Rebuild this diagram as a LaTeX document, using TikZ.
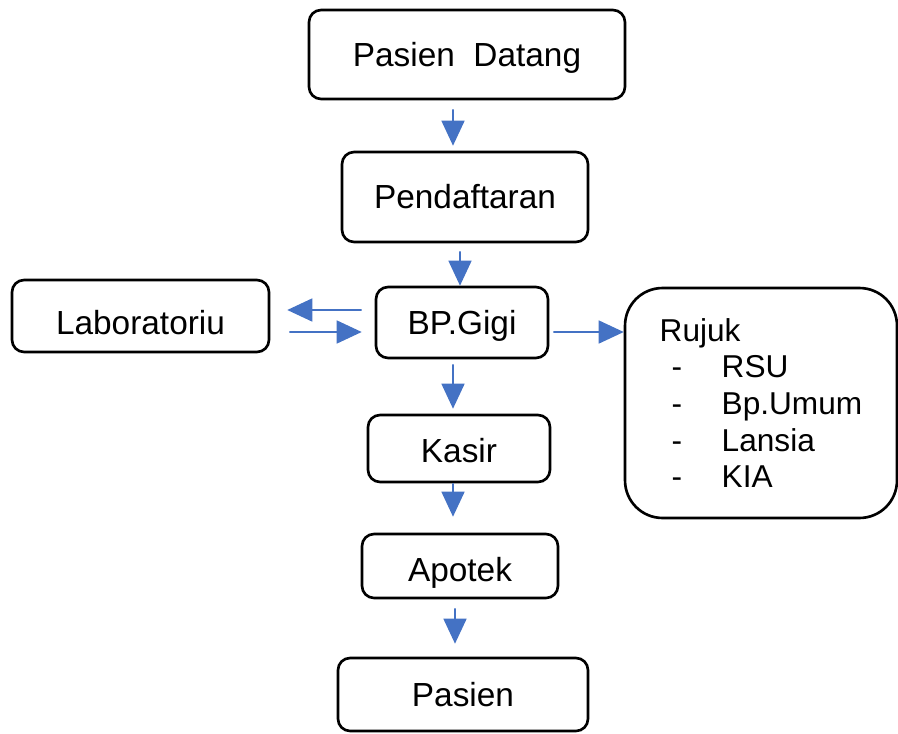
\documentclass[tikz,border=0pt]{standalone}
\usepackage{fontspec}
\setmainfont{Liberation Sans}
\usetikzlibrary{arrows.meta}
\definecolor{arrowblue}{RGB}{68,114,196}
\begin{document}
\begin{tikzpicture}[x=0.02cm, y=-0.02cm,
    box/.style={draw, line width=1.5pt, rounded corners=0.24cm, inner sep=0pt,
        font=\fontsize{19}{23}\selectfont, text height=13.6pt, text depth=0pt},
    rujukbox/.style={draw, line width=1.5pt, rounded corners=0.75cm, inner sep=0pt,
        font=\fontsize{18}{20.8}\selectfont, align=left,
        minimum width=5.44cm, minimum height=4.6cm},
    arr/.style={arrowblue, line width=0.9pt, -{Triangle[length=0.5cm, width=0.46cm]}}]
    \useasboundingbox (0,0) rectangle (898,733);

    % Boxes
    \node[box, minimum width=6.32cm, minimum height=1.78cm] (datang) at (467,54.5) {Pasien\ \ Datang};
    \node[box, minimum width=4.92cm, minimum height=1.80cm] (daftar) at (465,197) {Pendaftaran};
    \node[box, minimum width=3.44cm, minimum height=1.42cm] (gigi) at (462,322.5) {BP.Gigi};
    \node[box, minimum width=5.14cm, minimum height=1.44cm] (lab) at (140.5,316) {\raisebox{-0.14cm}{Laboratoriu}};
    \node[box, minimum width=3.64cm, minimum height=1.34cm] (kasir) at (459,448.5) {\raisebox{-0.05cm}{Kasir}};
    \node[box, minimum width=3.92cm, minimum height=1.28cm] (apotek) at (460,566) {\raisebox{-0.07cm}{Apotek}};
    \node[box, minimum width=5.00cm, minimum height=1.46cm] (pasien) at (463,694.5) {Pasien};
    \node[rujukbox] (rujuk) at (761,403) {Rujuk\\
        \makebox[1.24cm][l]{\hspace*{0.24cm}-}RSU\\
        \makebox[1.24cm][l]{\hspace*{0.24cm}-}Bp.Umum\\
        \makebox[1.24cm][l]{\hspace*{0.24cm}-}Lansia\\
        \makebox[1.24cm][l]{\hspace*{0.24cm}-}KIA};

    % Arrows
    \draw[arr] ([xshift=-0.28cm,yshift=-0.18cm]datang.south) -- ([xshift=-0.24cm,yshift=0.10cm]daftar.north);
    \draw[arr] ([xshift=-0.10cm,yshift=-0.16cm]daftar.south) -- ([xshift=-0.04cm]gigi.north);
    \draw[arr] ([xshift=-0.26cm,yshift=0.25cm]gigi.west) -- ([xshift=0.34cm,yshift=0.12cm]lab.east);
    \draw[arr] ([xshift=0.38cm,yshift=-0.32cm]lab.east) -- ([xshift=-0.26cm,yshift=-0.19cm]gigi.west);
    \draw[arr] ([xshift=0.08cm,yshift=-0.19cm]gigi.east) -- ([yshift=1.42cm]rujuk.west);
    \draw[arr] ([xshift=-0.18cm,yshift=-0.10cm]gigi.south) -- ([xshift=-0.12cm,yshift=0.10cm]kasir.north);
    \draw[arr] ([xshift=-0.12cm]kasir.south) -- ([xshift=-0.14cm,yshift=0.32cm]apotek.north);
    \draw[arr] ([xshift=-0.10cm,yshift=-0.18cm]apotek.south) -- ([xshift=-0.16cm,yshift=0.26cm]pasien.north);
\end{tikzpicture}
\end{document}
